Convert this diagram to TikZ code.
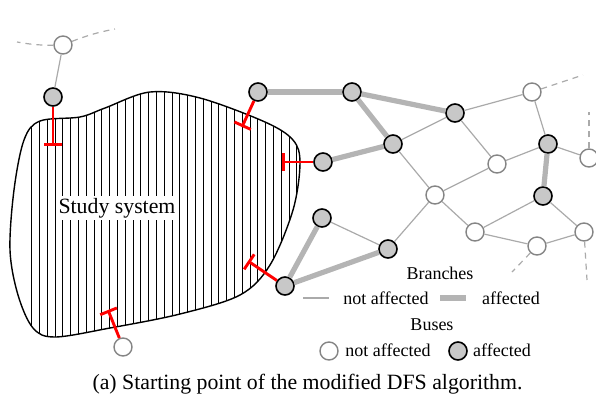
\documentclass[tikz,border=0pt]{standalone}
\usepackage{fontspec}
\setmainfont{Liberation Serif}
\usetikzlibrary{arrows.meta}
\definecolor{busgray}{HTML}{C8C8C8}
\definecolor{thickgray}{HTML}{B4B4B4}
\definecolor{thingray}{HTML}{AAAAAA}
\definecolor{wborder}{HTML}{858585}
\begin{document}
\begin{tikzpicture}[x=0.5pt,y=-0.5pt,
  busaff/.style={circle,minimum size=9pt,inner sep=0pt,fill=busgray,draw=black,line width=0.8pt},
  busok/.style={circle,minimum size=9pt,inner sep=0pt,fill=white,draw=wborder,line width=0.7pt},
  thinbr/.style={draw=thingray,line width=0.6pt},
  thickbr/.style={draw=thickgray,line width=2.6pt},
  dashbr/.style={draw=thingray,line width=0.6pt,dash pattern=on 3pt off 2.5pt},
  cut/.style={draw=red,line width=1.45pt,-{Bar[width=9pt,line width=1.45pt]}},
  lbl/.style={font=\fontsize{9}{11}\selectfont,anchor=base,inner sep=0pt},
  big/.style={font=\fontsize{10.9}{13}\selectfont}
]
\useasboundingbox (0,0) rectangle (596,397);
% study system blob
\def\blob{plot[smooth cycle,tension=0.55] coordinates {(80,117) (105,108) (150,92) (200,98) (265,122) (293,140) (300,163) (293,210) (270,265) (240,295) (180,314) (110,328) (55,337) (33,328) (18,295) (10,250) (14,190) (24,140) (40,121)}}
\begin{scope}
\clip \blob;
\foreach \k in {0,...,40} \draw[black,line width=0.55pt] (31.7+7.8*\k,80) -- ++(0,280);
\end{scope}
\draw[black,line width=0.7pt] \blob;
\node[big,fill=white,inner sep=1pt,anchor=base] (study) at (117,213) {Study system};
% buses
\node[busok]  (T1)  at (63,45) {};
\node[busaff] (A1)  at (53,97) {};
\node[busaff] (A2)  at (258,92) {};
\node[busaff] (A3)  at (352,92) {};
\node[busaff] (A4)  at (455,113) {};
\node[busaff] (A5)  at (393,144) {};
\node[busaff] (A6)  at (323,162) {};
\node[busok]  (W1)  at (532,92) {};
\node[busaff] (A7)  at (548,144) {};
\node[busok]  (W2)  at (497,164) {};
\node[busok]  (W3)  at (589,158) {};
\node[busok]  (W4)  at (435,195) {};
\node[busaff] (A8)  at (543,196) {};
\node[busok]  (W5)  at (475,232) {};
\node[busok]  (W6)  at (537,246) {};
\node[busok]  (W7)  at (584,232) {};
\node[busaff] (A9)  at (322,218) {};
\node[busaff] (A10) at (388,249) {};
\node[busaff] (A11) at (285,286) {};
\node[busok]  (W8)  at (123,347) {};
% free ends
\coordinate (d1) at (17,42);
\coordinate (d2) at (115,29);
\coordinate (d3) at (583,75);
\coordinate (d4) at (589,112);
\coordinate (d5) at (587,280);
\coordinate (d6) at (512,272);
\coordinate (c1) at (53,146);
\coordinate (c2) at (242,127);
\coordinate (c3) at (282,162);
\coordinate (c4) at (248,261);
\coordinate (c5) at (108,310);
% branches
\draw[thickbr] (A2) -- (A3);
\draw[thickbr] (A3) -- (A4);
\draw[thickbr] (A3) -- (A5);
\draw[thickbr] (A6) -- (A5);
\draw[thickbr] (A7) -- (A8);
\draw[thickbr] (A11) -- (A9);
\draw[thickbr] (A11) -- (A10);
\draw[thinbr] (T1) -- (A1);
\draw[thinbr] (A5) -- (A4);
\draw[thinbr] (A5) -- (W4);
\draw[thinbr] (A4) -- (W1);
\draw[thinbr] (A4) -- (W2);
\draw[thinbr] (W1) -- (A7);
\draw[thinbr] (W2) -- (A7);
\draw[thinbr] (A7) -- (W3);
\draw[thinbr] (W4) -- (W2);
\draw[thinbr] (W4) -- (A10);
\draw[thinbr] (W4) -- (W5);
\draw[thinbr] (W5) -- (A8);
\draw[thinbr] (W5) -- (W6);
\draw[thinbr] (W6) -- (W7);
\draw[thinbr] (A8) -- (W7);
\draw[thinbr] (A9) -- (A10);
\draw[dashbr] (T1) to[bend left=5] (d1);
\draw[dashbr] (T1) to[bend left=5] (d2);
\draw[dashbr] (W1) -- (d3);
\draw[dashbr] (W3) -- (d4);
\draw[dashbr] (W7) -- (d5);
\draw[dashbr] (W6) -- (d6);
% cuts
\draw[cut] (A1) -- (c1);
\draw[cut] (A2) -- (c2);
\draw[cut] (A6) -- (c3);
\draw[cut] (A11) -- (c4);
\draw[cut] (W8) -- (c5);
% legend
\node[lbl] (lb) at (440,279) {Branches};
\coordinate (l1a) at (303,298);
\coordinate (l1b) at (329,298);
\draw[thinbr] (l1a) -- (l1b);
\node[lbl] (lna) at (386,304) {not affected};
\coordinate (l2a) at (440,298);
\coordinate (l2b) at (466,298);
\draw[thickbr] (l2a) -- (l2b);
\node[lbl] (laf) at (511,304) {affected};
\node[lbl] (lbu) at (432,330) {Buses};
\node[busok] (lw) at (329,351) {};
\node[lbl] (lna2) at (388,356) {not affected};
\node[busaff] (lg) at (458,351) {};
\node[lbl] (laf2) at (502,356) {affected};
% caption
\node[big,anchor=base,inner sep=0pt] (cap) at (307.5,389) {(a) Starting point of the modified DFS algorithm.};
\end{tikzpicture}
\end{document}
